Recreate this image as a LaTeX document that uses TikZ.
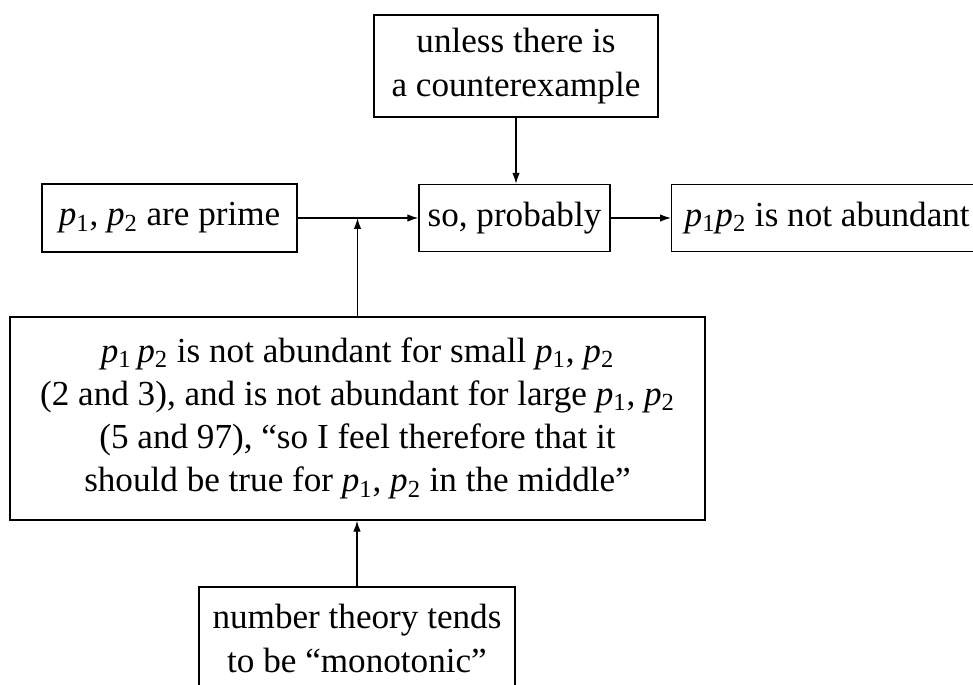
\documentclass[tikz,border=0pt]{standalone}
\usepackage{fontspec}
\setmainfont{Liberation Serif}
\usepackage{tikz}
\usetikzlibrary{arrows.meta, positioning}
\newcommand{\psub}[1]{\textit{p}\textsubscript{#1}}

\begin{document}
\begin{tikzpicture}[x=0.02cm, y=-0.02cm,
    argbox/.style={draw, line width=0.8pt, align=center, font=\fontsize{20}{24.6}\selectfont},
    link/.style={line width=0.7pt, -{Latex[length=0.22cm, width=0.15cm]}}]
  \clip (0,0) rectangle (973,685);

  %% Claims
  \node[argbox, minimum width=5.68cm, minimum height=2.04cm] (unless) at (516,66)
    {unless there is\\a counterexample};
  \node[argbox, minimum width=5.1cm, minimum height=1.36cm] (prime) at (169.5,218)
    {\psub{1}, \psub{2} are prime};
  \node[argbox, minimum width=3.82cm, minimum height=1.34cm] (probably) at (514.5,218)
    {so, probably};
  \node[argbox, anchor=west, inner xsep=0.26cm, minimum height=1.34cm] (abundant) at (671,218)
    {\psub{1}\psub{2} is not abundant};
  \node[argbox, minimum width=13.9cm, minimum height=4.06cm] (cases) at (357.5,418.5)
    {\psub{1}\,\psub{2} is not abundant for small \psub{1}, \psub{2}\\
     (2 and 3), and is not abundant for large \psub{1}, \psub{2}\\
     (5 and 97), ``so I feel therefore that it\\
     should be true for \psub{1}, \psub{2} in the middle''};
  \node[argbox, minimum width=6.32cm, minimum height=2.06cm] (monotonic) at (357,638.5)
    {number theory tends\\to be ``monotonic''};

  %% Connectors
  \coordinate (join) at (cases.north |- prime.east);
  \draw[link] (prime) -- (probably);
  \draw[link] (unless.south) -- (unless.south |- probably.north);
  \draw[link] (probably) -- (abundant);
  \draw[link] (cases.north) -- (join);
  \draw[link] (monotonic.north) -- (monotonic.north |- cases.south);
\end{tikzpicture}
\end{document}
